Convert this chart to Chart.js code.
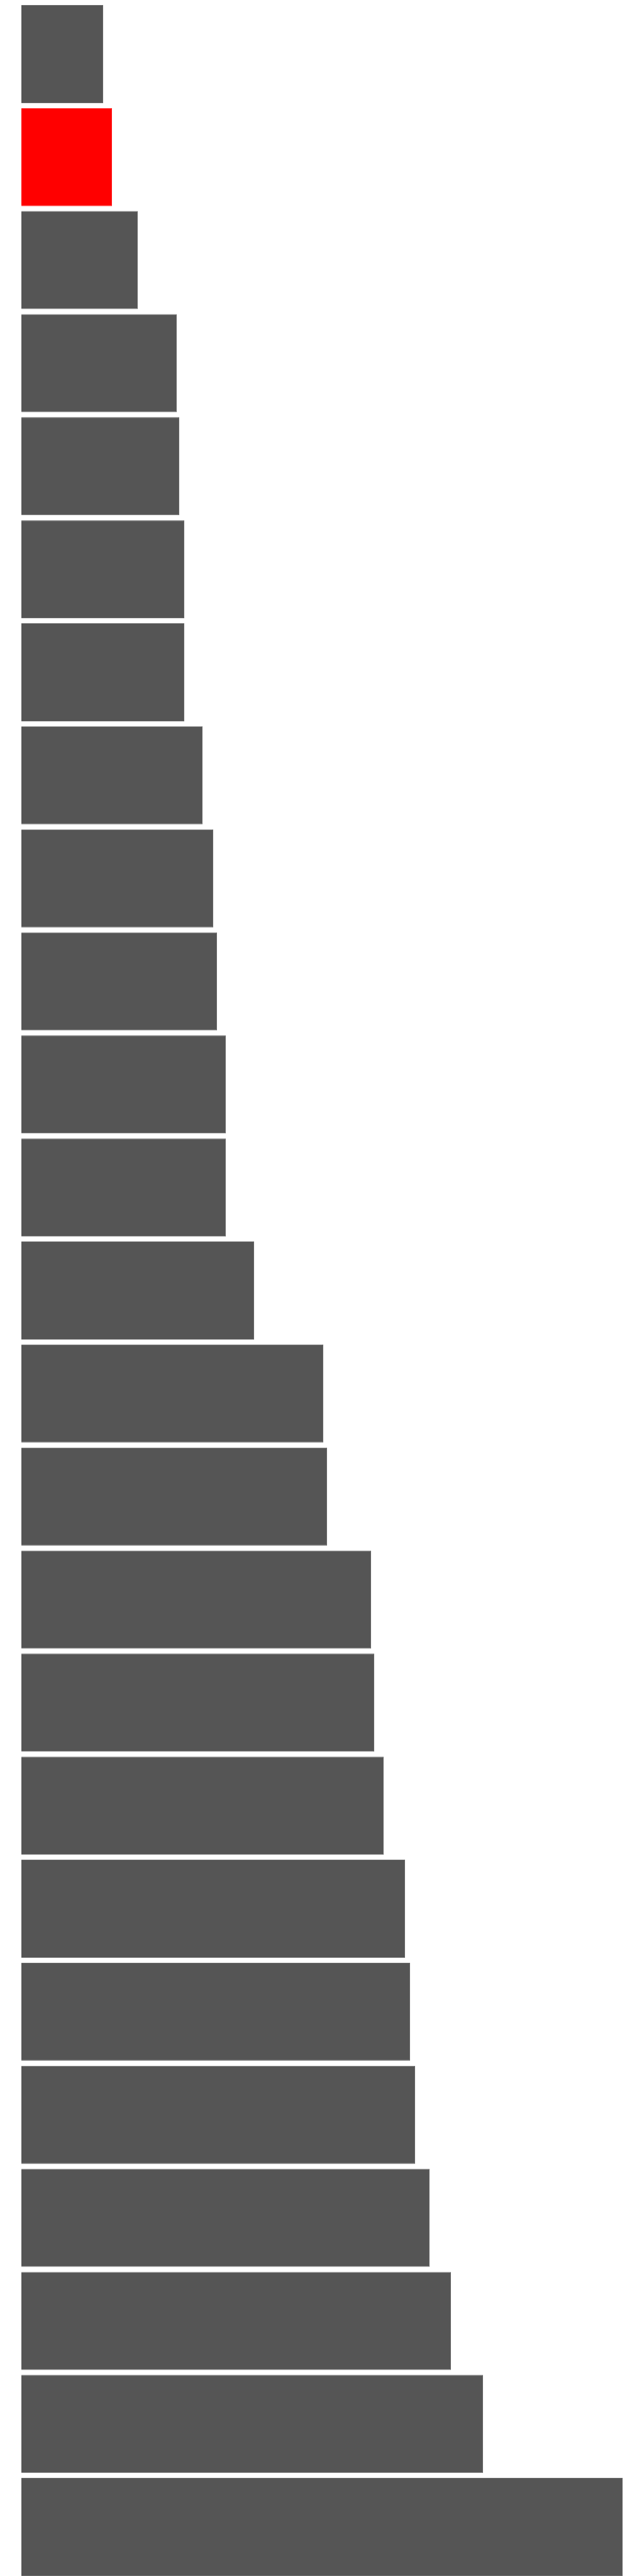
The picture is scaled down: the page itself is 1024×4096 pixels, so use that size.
<!DOCTYPE html>
<html>
<head>
<meta charset="utf-8">
<script src="https://cdn.jsdelivr.net/npm/chart.js@4/dist/chart.umd.min.js"></script>
<style>
    body { margin: 0; background: #ffffff; }
    #wrap { width: 1024px; height: 4104px; }
</style>
</head>
<body>
<div id="wrap"><canvas id="barChart" width="1024" height="4104"></canvas></div>
<script>
// categories, top to bottom
const categories = ['1', '2', '3', '4', '5', '6', '7', '8', '9', '10', '11', '12', '13',
    '14', '15', '16', '17', '18', '19', '20', '21', '22', '23', '24', '25'];

// bar lengths
const values = [130, 144, 185, 247, 251, 259, 259, 288, 305, 311, 325, 325, 370,
    480, 486, 556, 561, 576, 610, 618, 626, 649, 683, 734, 956];

// the one highlighted bar
const highlighted = [1];

const axisMax = 956;

document.addEventListener('DOMContentLoaded', () => {
    const fills = categories.map((c, i) => highlighted.includes(i) ? '#ff0000' : '#555555');
    const borders = categories.map((c, i) => highlighted.includes(i) ? '#ff1a1a' : '#6c6c6c');

    new Chart(document.getElementById('barChart'), {
        type: 'bar',
        data: {
            labels: categories,
            datasets: [{
                data: values,
                backgroundColor: fills,
                borderColor: borders,
                borderWidth: 1,
                categoryPercentage: 1,
                barPercentage: 0.952
            }]
        },
        options: {
            indexAxis: 'y',
            responsive: false,
            animation: false,
            devicePixelRatio: 1,
            layout: {
                padding: { top: 4, bottom: 4, left: 34, right: 34 }
            },
            plugins: {
                legend: { display: false },
                tooltip: { enabled: false }
            },
            scales: {
                x: { display: false, min: 0, max: axisMax },
                y: { display: false }
            }
        }
    });
});
</script>
</body>
</html>
